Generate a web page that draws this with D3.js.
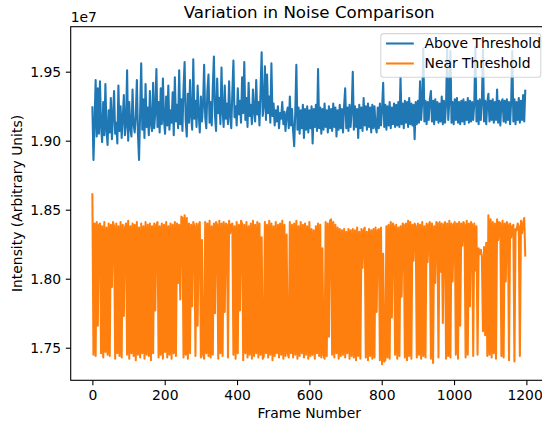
<!DOCTYPE html>
<html>
<head>
<meta charset="utf-8">
<script src="https://cdn.jsdelivr.net/npm/d3@7"></script>
<style>
  html, body { margin: 0; padding: 0; background: #fff; }
  svg { display: block; }
  text { font-family: "DejaVu Sans", sans-serif; fill: #000; }
</style>
</head>
<body>
<div id="chart"></div>
<script>
// ---- data (intensity in units of 1e7, one sample every 3 frames) ----
const frameStep = 3;
const aboveThreshold = [
1.925,1.886,1.912,1.944,1.903,1.938,1.905,1.943,1.910,1.899,1.928,1.904,1.941,1.908,1.897,1.922,1.906,1.931,1.901,1.918,
1.936,1.905,1.913,1.898,1.940,1.907,1.925,1.902,1.916,1.933,1.904,1.911,1.951,1.900,1.928,1.909,1.903,1.937,1.912,1.906,
1.918,1.944,1.905,1.886,1.920,1.956,1.908,1.930,1.902,1.941,1.910,1.924,1.904,1.936,1.912,1.907,1.942,1.909,1.921,1.952,
1.910,1.928,1.906,1.938,1.912,1.945,1.915,1.905,1.932,1.911,1.940,1.908,1.922,1.913,1.935,1.904,1.946,1.914,1.926,1.909,
1.951,1.912,1.930,1.907,1.938,1.957,1.915,1.903,1.934,1.913,1.944,1.918,1.908,1.959,1.916,1.929,1.910,1.940,1.919,1.906,
1.932,1.914,1.926,1.955,1.917,1.909,1.936,1.948,1.913,1.928,1.911,1.939,1.961,1.918,1.907,1.945,1.920,1.931,1.912,1.953,
1.921,1.910,1.940,1.916,1.927,1.912,1.943,1.918,1.909,1.935,1.958,1.917,1.925,1.911,1.938,1.919,1.929,1.913,1.946,1.920,
1.957,1.915,1.931,1.910,1.942,1.918,1.926,1.912,1.937,1.921,1.914,1.944,1.919,1.928,1.911,1.936,1.964,1.918,1.925,1.954,
1.915,1.948,1.920,1.932,1.913,1.956,1.918,1.927,1.911,1.922,1.914,1.925,1.909,1.920,1.916,1.928,1.912,1.921,1.907,1.919,
1.924,1.909,1.932,1.911,1.923,1.907,1.896,1.921,1.955,1.908,1.924,1.905,1.922,1.909,1.926,1.902,1.923,1.908,1.925,1.906,
1.922,1.909,1.925,1.898,1.923,1.910,1.926,1.907,1.952,1.909,1.924,1.905,1.923,1.908,1.927,1.910,1.922,1.906,1.925,1.909,
1.923,1.907,1.927,1.910,1.924,1.903,1.922,1.908,1.926,1.909,1.923,1.906,1.925,1.938,1.909,1.924,1.907,1.926,1.910,1.922,
1.950,1.908,1.925,1.910,1.923,1.902,1.926,1.909,1.924,1.907,1.931,1.911,1.925,1.908,1.927,1.910,1.924,1.906,1.926,1.909,
1.925,1.910,1.906,1.924,1.909,1.927,1.911,1.923,1.942,1.910,1.926,1.908,1.925,1.911,1.928,1.909,1.924,1.912,1.927,1.910,
1.926,1.911,1.928,1.910,1.946,1.912,1.927,1.909,1.929,1.913,1.928,1.910,1.931,1.912,1.927,1.911,1.926,1.901,1.928,1.912,
1.929,1.913,1.943,1.915,1.928,1.967,1.914,1.929,1.912,1.928,1.915,1.930,1.936,1.914,1.929,1.912,1.930,1.915,1.928,1.913,
1.927,1.914,1.932,1.912,1.929,1.913,1.927,1.967,1.915,1.929,1.965,1.913,1.928,1.912,1.930,1.915,1.931,1.913,1.928,1.912,
1.929,1.914,1.930,1.912,1.928,1.915,1.931,1.913,1.929,1.914,1.928,1.915,1.927,1.968,1.914,1.929,1.912,1.930,1.915,1.928,
1.966,1.914,1.929,1.912,1.928,1.934,1.914,1.929,1.915,1.930,1.913,1.928,1.915,1.937,1.913,1.929,1.911,1.928,1.930,1.914,
1.929,1.913,1.930,1.915,1.928,1.912,1.929,1.965,1.914,1.930,1.912,1.928,1.915,1.931,1.913,1.929,1.915,1.933,1.914,1.937
];
const nearThreshold = [
1.862,1.745,1.840,1.744,1.841,1.766,1.839,1.840,1.746,1.838,
1.743,1.841,1.747,1.837,1.745,1.840,1.744,1.839,1.794,1.841,
1.838,1.742,1.840,1.746,1.838,1.744,1.841,1.743,1.839,1.773,
1.837,1.840,1.745,1.842,1.742,1.838,1.746,1.840,1.744,1.839,
1.741,1.841,1.745,1.837,1.743,1.840,1.746,1.838,1.742,1.841,
1.745,1.839,1.744,1.840,1.741,1.838,1.746,1.840,1.777,1.839,
1.841,1.743,1.838,1.745,1.840,1.742,1.839,1.747,1.841,1.743,
1.838,1.745,1.840,1.742,1.839,1.746,1.841,1.744,1.840,1.797,
1.839,1.785,1.845,1.844,1.743,1.846,1.745,1.844,1.742,1.840,
1.746,1.839,1.780,1.841,1.838,1.744,1.840,1.766,1.839,1.841,
1.743,1.828,1.745,1.742,1.841,1.746,1.840,1.744,1.842,1.743,
1.838,1.745,1.840,1.775,1.841,1.839,1.742,1.842,1.746,1.840,
1.744,1.841,1.776,1.840,1.839,1.743,1.842,1.833,1.839,1.840,
1.745,1.838,1.742,1.841,1.746,1.839,1.777,1.842,1.840,1.741,
1.839,1.746,1.841,1.743,1.838,1.745,1.840,1.742,1.842,1.744,
1.839,1.746,1.841,1.743,1.840,1.745,1.830,1.742,1.744,1.841,
1.746,1.839,1.743,1.842,1.745,1.840,1.741,1.838,1.744,1.841,
1.746,1.839,1.743,1.840,1.745,1.842,1.742,1.839,1.744,1.832,
1.746,1.743,1.841,1.746,1.839,1.743,1.840,1.745,1.842,1.742,
1.838,1.744,1.841,1.746,1.839,1.743,1.840,1.745,1.838,1.742,
1.841,1.744,1.836,1.745,1.835,1.742,1.838,1.746,1.840,1.744,
1.839,1.743,1.822,1.745,1.742,1.841,1.744,1.840,1.758,1.842,
1.843,1.745,1.841,1.743,1.839,1.746,1.837,1.742,1.836,1.744,
1.835,1.745,1.836,1.743,1.834,1.746,1.836,1.742,1.835,1.744,
1.836,1.743,1.835,1.741,1.837,1.744,1.834,1.742,1.836,1.808,
1.835,1.837,1.743,1.834,1.741,1.836,1.744,1.835,1.742,1.836,
1.743,1.837,1.776,1.835,1.836,1.741,1.837,1.738,1.818,1.740,
1.741,1.838,1.743,1.839,1.742,1.841,1.772,1.840,1.838,1.745,
1.839,1.742,1.837,1.744,1.838,1.787,1.840,1.839,1.743,1.840,
1.741,1.842,1.744,1.841,1.742,1.839,1.813,1.840,1.838,1.743,
1.840,1.745,1.839,1.742,1.841,1.744,1.838,1.743,1.840,1.812,
1.839,1.841,1.742,1.840,1.739,1.838,1.797,1.841,1.840,1.743,
1.841,1.805,1.840,1.768,1.839,1.841,1.742,1.840,1.744,1.842,
1.743,1.840,1.798,1.839,1.841,1.745,1.840,1.742,1.841,1.766,
1.840,1.824,1.841,1.839,1.743,1.842,1.745,1.840,1.780,1.841,
1.839,1.744,1.840,1.806,1.838,1.745,1.822,1.818,1.821,1.816,
1.762,1.823,1.759,1.826,1.744,1.846,1.745,1.843,1.743,1.841,
1.746,1.840,1.742,1.843,1.828,1.841,1.840,1.744,1.842,1.743,
1.840,1.798,1.841,1.839,1.741,1.840,1.830,1.838,1.839,1.740,
1.836,1.835,1.840,1.838,1.744,1.842,1.833,1.840,1.844,1.816
];
const seriesNames = ["Above Threshold", "Near Threshold"];
const seriesColors = ["#1f77b4", "#ff7f0e"];
const xTickValues = [0, 200, 400, 600, 800, 1000, 1200];
const yTickValues = [1.75, 1.80, 1.85, 1.90, 1.95];
const offsetLabel = "1e7";
const titleText = "Variation in Noise Comparison";
const xLabelText = "Frame Number";
const yLabelText = "Intensity (Arbitrary Units)";

// ---- layout ----
const W = 542, H = 421;
const L = 70.7, R = 547.7, T = 26.7, B = 380.3;
const FS = 13.9;

const x = d3.scaleLinear().domain([-59.95, 1258.95]).range([L, R]);
const y = d3.scaleLinear().domain([1.7264, 1.9826]).range([B, T]);

const svg = d3.select("#chart").append("svg")
  .attr("width", W).attr("height", H);

svg.append("defs").append("clipPath").attr("id", "clip")
  .append("rect").attr("x", L).attr("y", T).attr("width", R - L).attr("height", B - T);

const series = [aboveThreshold, nearThreshold];
const line = d3.line()
  .x((d, i) => x(i * frameStep))
  .y(d => y(d));

const plot = svg.append("g").attr("clip-path", "url(#clip)");
series.forEach((vals, k) => {
  plot.append("path")
    .datum(vals)
    .attr("d", line)
    .attr("fill", "none")
    .attr("stroke", seriesColors[k])
    .attr("stroke-width", 2.08)
    .attr("stroke-linejoin", "round")
    .attr("stroke-linecap", "butt");
});

// axes
const xAxis = d3.axisBottom(x).tickValues(xTickValues).tickFormat(d3.format("d"))
  .tickSizeInner(4.9).tickSizeOuter(0).tickPadding(4.6);
const yAxis = d3.axisLeft(y).tickValues(yTickValues).tickFormat(d3.format(".2f"))
  .tickSizeInner(4.9).tickSizeOuter(0).tickPadding(4.6);

const gx = svg.append("g").attr("transform", `translate(0,${B})`).call(xAxis);
const gy = svg.append("g").attr("transform", `translate(${L},0)`).call(yAxis);
[gx, gy].forEach(g => {
  g.select(".domain").remove();
  g.selectAll(".tick line").attr("stroke", "#000").attr("stroke-width", 1.1);
  g.selectAll(".tick text").attr("font-size", FS).attr("font-family", "DejaVu Sans").attr("fill", "#000");
});
// last x tick label sits at the picture edge: nudge it so it stays inside
gx.selectAll(".tick text").filter(d => d === xTickValues[xTickValues.length - 1]).attr("dx", -1.8);

// spines
const sp = svg.append("g").attr("stroke", "#000").attr("stroke-width", 1.1).attr("fill", "none");
sp.append("rect").attr("x", L).attr("y", T).attr("width", R - L).attr("height", B - T);

// texts
svg.append("text").attr("x", (L + R) / 2).attr("y", 18.4).attr("text-anchor", "middle")
  .attr("font-size", 16.67).text(titleText);
svg.append("text").attr("x", L).attr("y", 21.7).attr("font-size", FS).text(offsetLabel);
svg.append("text").attr("x", (L + R) / 2).attr("y", 417.5).attr("text-anchor", "middle")
  .attr("font-size", FS).text(xLabelText);
svg.append("text").attr("transform", `translate(21.5,${(T + B) / 2}) rotate(-90)`)
  .attr("text-anchor", "middle").attr("font-size", FS).text(yLabelText);

// legend
const lg = svg.append("g");
lg.append("rect").attr("x", 380.8).attr("y", 33.6).attr("width", 160).attr("height", 43.7)
  .attr("rx", 2.8).attr("ry", 2.8)
  .attr("fill", "#fff").attr("fill-opacity", 0.8)
  .attr("stroke", "#ccc").attr("stroke-opacity", 0.8).attr("stroke-width", 1.1);
seriesNames.forEach((name, k) => {
  const cy = 43.5 + k * 20;
  lg.append("line").attr("x1", 386).attr("x2", 413.8).attr("y1", cy).attr("y2", cy)
    .attr("stroke", seriesColors[k]).attr("stroke-width", 2.08);
  lg.append("text").attr("x", 424.5).attr("y", cy + 4.9).attr("font-size", FS).text(name);
});
</script>
</body>
</html>
